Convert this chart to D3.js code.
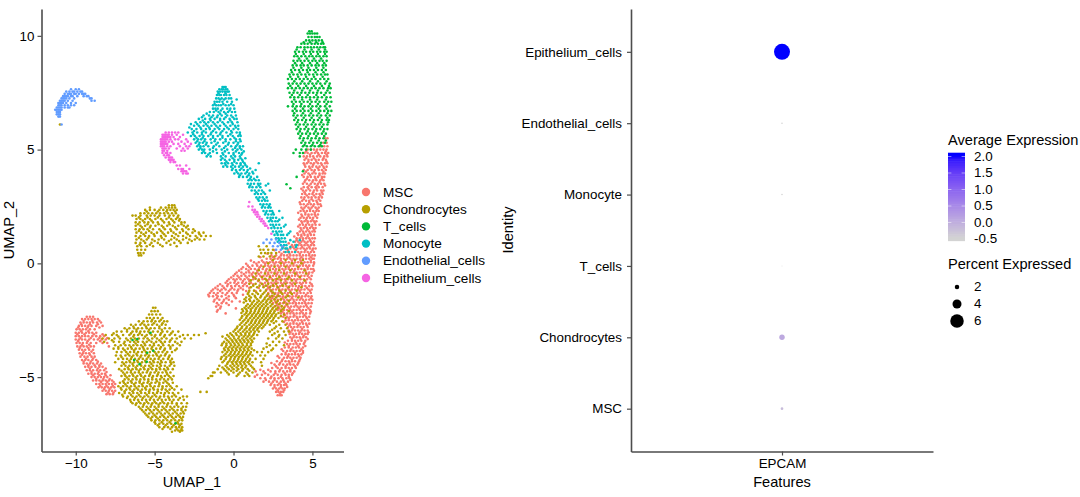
<!DOCTYPE html>
<html>
<head>
<meta charset="utf-8">
<script src="https://cdn.jsdelivr.net/npm/d3@7"></script>
<style>
  html, body { margin: 0; padding: 0; background: #fff; overflow: hidden; }
  text { font-family: "Liberation Sans", Arial, sans-serif; fill: #000; }
</style>
</head>
<body>
<div id="chart"></div>
<script>
// Values. Each row is [umap2, umap1, umap1, ...]
const mscRows = [
[5.5,5.8,5.95],[5.3,5.7,5.9],[5.15,5.5,5.75,5.95],[5,4.7,4.9,5.1,5.3,5.5,5.7,5.9],
[4.85,4.5,4.7,4.95,5.15,5.35,5.6,5.8,6],[4.7,4.45,4.65,4.85,5.05,5.3,5.5,5.75,5.95],
[4.55,4.5,4.75,4.95,5.2,5.4,5.65,5.85],[4.4,4.45,4.65,4.9,5.1,5.35,5.55,5.8,5.95],
[4.25,4.55,4.8,5,5.25,5.45,5.7,5.9],[4.1,4.45,4.7,4.95,5.15,5.4,5.6,5.85],
[3.95,4.5,4.75,5,5.2,5.45,5.65,5.8],[3.8,4.45,4.7,4.9,5.15,5.35,5.6,5.75],
[3.65,4.55,4.8,5.05,5.25,5.5,5.7],[3.5,4.4,4.65,4.9,5.15,5.35,5.55,5.75],
[3.35,4.45,4.7,4.95,5.2,5.4,5.65],[3.2,4.4,4.6,4.85,5.1,5.3,5.55,5.7],
[3.05,4.35,4.55,4.8,5,5.25,5.45,5.65],[2.9,4.3,4.5,4.75,4.95,5.2,5.4,5.6],
[2.75,4.35,4.6,4.8,5.05,5.25,5.5],[2.6,4.25,4.45,4.7,4.9,5.1,5.35,5.5],
[2.45,4.3,4.5,4.75,4.95,5.2,5.4],[2.3,4.25,4.45,4.65,4.85,5.05,5.25,5.4],
[2.15,4.3,4.55,4.75,4.95,5.15,5.35],[2,4.25,4.45,4.65,4.85,5.05,5.3],
[1.85,4.3,4.5,4.7,4.9,5.1,5.25],[1.7,4.2,4.4,4.6,4.8,5,5.2,5.45],
[1.55,4.25,4.45,4.65,4.85,5.05,5.2],[1.4,4.2,4.4,4.6,4.8,5,5.15],
[1.25,4.1,4.3,4.5,4.7,4.9,5.1],[1.1,4,4.2,4.4,4.6,4.8,5,5.15],
[0.95,3.9,4.1,4.3,4.5,4.7,4.9,5.1],[0.8,3.7,3.9,4.1,4.3,4.5,4.7,4.9,5.1],
[0.65,3.3,3.6,3.85,4.05,4.25,4.45,4.65,4.85,5.05,5.2],
[0.5,2.9,3.2,3.45,3.7,3.9,4.1,4.3,4.5,4.7,4.9,5.1],
[0.35,2.4,2.7,3,3.2,3.4,3.6,3.8,4,4.2,4.4,4.6,4.8,5,5.15],
[0.2,2.1,2.35,2.6,2.8,3,3.2,3.4,3.6,3.8,4,4.2,4.4,4.6,4.8,5,5.1],
[0.05,1.3,1.6,1.9,2.1,2.3,2.5,2.7,2.9,3.1,3.3,3.5,3.7,3.9,4.1,4.3,4.5,4.7,4.9,5.1],
[-0.1,0.9,1.2,1.5,1.75,2,2.2,2.4,2.6,2.8,3,3.2,3.4,3.6,3.8,4,4.2,4.4,4.6,4.8,5.05],
[-0.25,0.5,0.8,1.1,1.35,1.6,1.85,2.1,2.3,2.5,2.7,2.9,3.1,3.3,3.5,3.7,3.9,4.1,4.3,4.5,4.7,4.9,5.05],
[-0.4,0.2,0.5,0.8,1,1.25,1.5,1.75,2,2.2,2.4,2.6,2.8,3,3.2,3.4,3.6,3.8,4,4.2,4.4,4.6,4.8,5],
[-0.55,0,0.25,0.5,0.75,1,1.2,1.45,1.7,1.9,2.1,2.3,2.5,2.7,2.9,3.1,3.3,3.5,3.7,3.9,4.1,4.3,4.5,4.7,4.95],
[-0.7,-0.3,0,0.2,0.45,0.7,0.95,1.25,1.6,1.85,2.05,2.25,2.45,2.65,2.85,3.05,3.25,3.45,3.65,3.85,4.05,4.25,4.45,4.65,4.9],
[-0.85,-0.5,-0.2,0.05,0.3,0.55,0.8,1.1,1.7,2,2.2,2.4,2.6,2.8,3,3.2,3.4,3.6,3.8,4,4.2,4.4,4.6,4.85],
[-1,-1,-0.7,-0.4,-0.15,0.1,0.35,0.6,0.85,1.9,2.15,2.35,2.55,2.75,2.95,3.15,3.35,3.55,3.75,3.95,4.15,4.35,4.55,4.8,5],
[-1.15,-1.3,-1,-0.75,-0.5,-0.2,0.05,0.3,0.6,2.1,2.3,2.5,2.7,2.9,3.1,3.3,3.5,3.7,3.9,4.1,4.3,4.5,4.75,4.95],
[-1.3,-1.5,-1.25,-1,-0.7,-0.4,-0.1,0.2,2.2,2.45,2.65,2.85,3.05,3.25,3.45,3.65,3.85,4.05,4.25,4.45,4.7,4.9],
[-1.45,-1.55,-1.3,-1,-0.75,-0.3,0.05,2.3,2.55,2.75,2.95,3.15,3.35,3.55,3.75,3.95,4.15,4.35,4.55,4.75,4.95],
[-1.6,-1.2,-0.9,-0.6,-0.3,2.35,2.6,2.8,3,3.2,3.4,3.6,3.8,4,4.2,4.4,4.6,4.8,5],
[-1.75,-1.05,-0.75,-0.45,2.5,2.75,2.95,3.15,3.35,3.55,3.75,3.95,4.15,4.35,4.55,4.75,4.95],
[-1.9,-1.1,-0.8,2.6,2.85,3.05,3.25,3.45,3.65,3.85,4.05,4.25,4.45,4.65,4.9],
[-2.05,-1,2.8,3,3.2,3.4,3.6,3.8,4,4.2,4.4,4.6,4.85],[-2.2,-0.5,3,3.2,3.4,3.6,3.8,4,4.2,4.4,4.6,4.85],
[-2.35,3.15,3.4,3.6,3.8,4,4.2,4.4,4.6,4.8],[-2.5,3.3,3.5,3.7,3.9,4.1,4.3,4.5,4.75],
[-2.65,3.4,3.6,3.8,4,4.2,4.4,4.6,4.8],[-2.8,3.45,3.65,3.85,4.05,4.25,4.45,4.7],
[-2.95,3.5,3.7,3.9,4.1,4.3,4.5,4.7],[-3.1,3.55,3.75,3.95,4.15,4.35,4.55,4.7],
[-3.25,3.6,3.8,4,4.2,4.4,4.6],[-3.4,3.45,3.7,3.9,4.1,4.3,4.55],
[-3.55,3.4,3.6,3.8,4,4.2,4.45],[-3.7,3.25,3.5,3.75,3.95,4.15,4.4],
[-3.85,3.15,3.4,3.6,3.8,4,4.2,4.4],[-4,3.05,3.3,3.5,3.7,3.9,4.1,4.3],
[-4.15,2.9,3.2,3.4,3.6,3.8,4,4.25],[-4.3,2.75,3.05,3.3,3.5,3.7,3.9,4.15],
[-4.45,2.6,2.9,3.15,3.4,3.6,3.8,4.05],[-4.6,2.45,2.8,3.05,3.3,3.5,3.7,3.95],
[-4.75,1.4,1.9,2.35,2.65,2.9,3.15,3.4,3.6,3.85],[-4.9,1.5,1.8,2.2,2.55,2.8,3.05,3.3,3.5,3.7],
[-5.05,1.7,2,2.35,2.6,2.85,3.1,3.35,3.55],[-5.2,1.9,2.25,2.5,2.75,3,3.2,3.45],
[-5.35,2.35,2.6,2.8,3,3.2,3.35],[-5.5,2.5,2.7,2.9,3.1,3.25],[-5.65,2.7,2.85,3,3.15],[-5.8,2.8,2.95,3.05],
[4.92,4.6,5.25,5.85],[4.78,4.85,5.4,5.9],[4.62,4.6,5.1,5.7],[4.47,4.75,5.25,5.9],[4.33,4.5,5.05,5.6],[4.18,4.85,5.35,5.75],[4.03,4.6,5.1,5.7],
[3.88,4.35,4.85,5.45],[3.72,4.65,5.2,5.6],[3.58,4.5,5,5.45],[3.42,4.8,5.3,5.8],[3.28,4.3,4.75,5.25],[3.12,4.5,5.05,5.6],[2.98,4.65,5.1,5.5],
[2.82,4.45,4.95,5.4],[2.68,4.2,4.8,5.3],[2.52,4.6,5.05,5.55],[2.38,4.4,4.85,5.3],[2.22,4.1,4.55,5.15],[2.08,4.35,4.75,5.2],[1.92,4.15,4.6,5],
[1.78,4.35,4.7,5.15],[1.62,4.1,4.55,4.95],[1.48,4.3,4.7,5.1],[1.32,4.05,4.45,4.85],[1.18,3.85,4.3,4.7],[1.02,4,4.4,4.85],[0.88,3.5,4.2,4.6,5],[0.72,3.15,3.75,4.35,4.8],
[0.58,2.6,3.45,3.95,4.55,5],[0.42,2.15,3.05,3.55,4.2,4.8],[0.27,1.7,2.5,2.9,3.5,4.3,4.9],[0.12,1.1,1.8,2.45,3,3.7,4.25,4.9],[-0.02,0.8,1.45,2,2.6,3.2,3.8,4.4,5.1],
[-0.17,0.6,1,1.65,2.3,2.9,3.5,4.1,4.7],[-0.32,0.35,0.95,1.5,2.05,2.65,3.2,3.85,4.55,5.1],[-0.47,0.1,0.65,1.15,1.6,2.2,2.75,3.35,4,4.75],
[-0.62,-0.15,0.35,0.85,1.35,1.8,2.35,2.95,3.55,4.2,4.8],[-0.78,-0.4,0.1,0.6,1,1.55,2.15,2.7,3.3,3.95,4.55],[-0.92,-0.85,-0.35,0.2,0.7,1.25,1.85,2.5,3.1,3.7,4.3,4.95],
[-1.08,-1.15,-0.6,-0.1,0.45,1,1.6,2.2,2.85,3.45,4.1,4.65],[-1.22,-1.4,-0.85,-0.3,0.25,0.8,1.4,2.35,3,3.6,4.2,4.85],[-1.38,-1.6,-1.1,-0.5,0,0.6,2.15,2.8,3.4,4,4.6],
[-1.53,-1.05,-0.45,0.15,2.45,3.1,3.7,4.3,4.9],[-1.68,-1.25,-0.65,-0.1,0.4,2.65,3.25,3.85,4.5],[-1.83,-0.95,-0.3,2.75,3.35,3.95,4.6],[-1.98,-0.85,0.15,2.9,3.55,4.15,4.75],
[-2.12,-1.05,3.1,3.7,4.3,4.9],[-2.28,3.25,3.85,4.5],[-2.42,3.5,4.05,4.65],[-2.58,3.2,3.8,4.35],[-2.72,3.55,4.1,4.65],[-2.88,3.75,4.35],[-3.03,3.6,4.2,4.75],[-3.18,3.85,4.45],
[-3.33,3.7,4.25,4.7],[-3.48,3.25,3.95,4.5],[-3.63,3.5,4.1,4.55],[-3.78,3.05,3.65,4.3],[-3.93,3.3,3.9,4.4],[-4.08,2.8,3.45,4.15],[-4.23,3.1,3.7,4.2],[-4.38,2.4,2.95,3.55,4.1],
[-4.53,2.7,3.3,3.9],[-4.68,1.7,2.2,2.95,3.6],[-4.83,2,2.65,3.25,3.75],[-4.98,1.35,2.4,3,3.5],[-5.13,2.05,2.6,3.15,3.6],[-5.28,2.4,2.9,3.3],[-5.43,2.6,3,3.4],[-5.58,2.8,3.2],[-5.72,2.95],
// left crescent
[-2.35,-9.3,-9.1,-8.9],[-2.45,-9.6,-9.4,-9.2,-9,-8.8,-8.6],[-2.6,-9.7,-9.5,-9.3,-9.1,-8.9,-8.65,-8.4],
[-2.75,-9.8,-9.6,-9.4,-9.2,-9,-8.7,-8.3],[-2.9,-9.95,-9.75,-9.55,-9.35,-9.1,-8.8],[-3.05,-10,-9.8,-9.6,-9.35,-9.15,-8.95,-8.7],
[-3.2,-10,-9.8,-9.6,-9.4,-9.2,-8.95,-8.7,-8.45,-8.2],[-3.35,-10,-9.8,-9.6,-9.4,-9.15,-8.85,-8.6,-8.35,-8.1],
[-3.5,-9.95,-9.75,-9.55,-9.3,-9.05,-8.7,-8.3,-8],[-3.65,-9.9,-9.7,-9.5,-9.3,-9.05,-8.85,-7.9],
[-3.8,-9.8,-9.6,-9.4,-9.15,-8.9],[-3.95,-9.75,-9.55,-9.35,-9.15,-8.85],[-4.1,-9.7,-9.45,-9.25,-9,-8.8],
[-4.25,-9.6,-9.4,-9.2,-8.95,-8.7],[-4.4,-9.5,-9.3,-9.1,-8.9,-8.65,-8.4],[-4.55,-9.4,-9.2,-9,-8.75,-8.5,-8.3],
[-4.7,-9.3,-9.1,-8.9,-8.65,-8.45,-8.2],[-4.85,-9.2,-9,-8.8,-8.6,-8.35,-8.15],[-5,-9,-8.8,-8.6,-8.4,-8.2,-8],
[-5.15,-8.9,-8.7,-8.5,-8.3,-8.1,-7.9,-7.7],[-5.3,-8.7,-8.5,-8.3,-8.1,-7.9,-7.7,-7.5],[-5.45,-8.55,-8.35,-8.15,-7.95,-7.75,-7.55],
[-5.6,-8.3,-8.1,-7.9,-7.7,-7.5],[-5.75,-8.05,-7.85,-7.65],
[-2.52,-9.5,-8.95,-8.5],[-2.68,-9.65,-9.1,-8.6],[-2.82,-9.85,-9.25,-8.5],[-2.98,-9.65,-9.2],[-3.12,-9.9,-9.45,-8.85,-8.3],[-3.28,-9.7,-9.05,-8.5,-8],[-3.42,-9.85,-9.25,-8.45],
[-3.58,-9.6,-9.15],[-3.72,-9.75,-9.2],[-3.88,-9.5,-9],[-4.02,-9.6,-9.1],[-4.18,-9.35,-8.9],[-4.32,-9.5,-9.05,-8.6],[-4.48,-9.2,-8.8,-8.5],[-4.62,-9.1,-8.6,-8.1],[-4.78,-9,-8.55,-8.05],
[-4.92,-8.9,-8.5,-8.1,-7.8],[-5.08,-8.7,-8.25,-7.85],[-5.22,-8.4,-8,-7.6],[-5.38,-8.45,-8.05,-7.65],[-5.52,-8.2,-7.85],[-5.68,-7.95,-7.6]
];
const chondroRows = [
// upper lobe
[2.55,-4.1,-3.9,-3.75],[2.45,-5.3,-4.6,-4.3,-4.1,-3.9,-3.7],[2.35,-5.6,-5.3,-5,-4.7,-4.45,-4.2,-4,-3.8,-3.6],
[2.2,-5.9,-5.65,-5.4,-5.15,-4.9,-4.65,-4.4,-4.15,-3.9,-3.65],[2.1,-6.4,-6.2,-5.9,-5.5,-5.25,-5,-4.7,-4.35,-4.05,-3.8,-3.5],
[1.95,-6.15,-5.9,-5.6,-5.3,-4.95,-4.6,-4.25,-3.95,-3.65,-3.4],[1.8,-6.2,-5.95,-5.65,-5.4,-5.1,-4.8,-4.4,-4.1,-3.75,-3.3,-3.1],
[1.65,-6.2,-5.9,-5.6,-5.25,-4.95,-4.55,-4.2,-3.85,-3.5,-3.15,-2.9],[1.5,-6.2,-5.95,-5.7,-5.45,-5.1,-4.7,-4.35,-4,-3.6,-3.25,-2.85,-2.55],
[1.35,-6.15,-5.85,-5.55,-5.2,-4.85,-4.5,-4.15,-3.8,-3.4,-3,-2.6,-2.2,-1.9],[1.2,-6.2,-5.9,-5.6,-5.35,-5,-4.6,-4.3,-3.9,-3.5,-3.2,-2.75,-2.4,-2.05,-1.75,-1.45],
[1.05,-6.15,-5.85,-5.5,-5.15,-4.75,-4.4,-3.95,-3.6,-3.2,-2.8,-2.45,-2.15,-1.85],[0.9,-6.2,-5.9,-5.6,-5.2,-4.8,-4.25,-3.75,-3.35,-2.9],
[0.75,-6.1,-5.85,-5.5,-5.1,-4.5,-3.6],[0.6,-6.1,-5.85,-5.6],[0.45,-6.05,-5.9,-5.7],[0.35,-6,-5.85],
[2.28,-5.5,-4.8,-4.25,-3.7],[2.02,-6,-5.45,-4.8,-4.1,-3.55],[1.88,-5.75,-5.2,-4.5,-3.85,-3.45],[1.72,-6.05,-5.45,-4.75,-4.05,-3.3],[1.58,-5.8,-5.3,-4.45,-3.7,-3],
[1.42,-6,-5.35,-4.6,-3.95,-3.2,-2.45],[1.28,-5.7,-5.05,-4.4,-3.65,-2.9,-2.15],[1.12,-6,-5.4,-4.55,-3.75,-3,-2.3],[0.98,-5.7,-5,-4.1,-3.45,-2.65],[0.82,-5.95,-5.3,-4.65,-4],
// lower left lobe
[-1.95,-5.1,-4.95],[-2.1,-5.2,-5,-4.8],[-2.25,-5.35,-5.15,-4.9,-4.65],[-2.4,-5.5,-5.3,-5.05,-4.8,-4.5],
[-2.55,-6,-5.7,-5.45,-5.2,-4.95,-4.7,-4.4,-4.2],[-2.7,-6.5,-6.2,-5.9,-5.65,-5.4,-5.15,-4.85,-4.55,-4.3],
[-2.85,-6.9,-6.6,-6.3,-6.05,-5.8,-5.5,-5.25,-5,-4.7,-4.35,-4.05],[-3,-7.4,-7.1,-6.75,-6.4,-6.15,-5.9,-5.65,-5.4,-5.1,-4.8,-4.5,-4.2,-3.85,-3.5],
[-3.15,-8.1,-7.7,-7.4,-7,-6.6,-6.3,-6.05,-5.8,-5.5,-5.2,-4.95,-4.65,-4.35,-4.05,-3.7,-3.2,-2.9,-2.5,-2.2],
[-3.3,-8.3,-7.9,-7.55,-7.2,-6.8,-6.5,-6.25,-6,-5.7,-5.45,-5.15,-4.85,-4.55,-4.25,-3.9,-3.6,-3.1,-2.7],
[-3.45,-8.2,-7.6,-7.25,-6.9,-6.55,-6.3,-6.05,-5.75,-5.5,-5.2,-4.9,-4.6,-4.35,-4.05,-3.7,-3.3],
[-3.6,-7.5,-7.15,-6.85,-6.6,-6.35,-6.1,-5.85,-5.6,-5.3,-5.05,-4.75,-4.45,-4.1,-3.85,-3.4],
[-3.75,-7.6,-7.3,-7,-6.7,-6.45,-6.2,-5.95,-5.7,-5.45,-5.2,-4.9,-4.65,-4.35,-4,-3.6],
[-3.9,-7.4,-7.1,-6.8,-6.55,-6.3,-6.05,-5.8,-5.55,-5.3,-5,-4.75,-4.5,-4.2,-3.9],
[-4.05,-7.45,-7.15,-6.85,-6.6,-6.35,-6.1,-5.85,-5.6,-5.35,-5.1,-4.85,-4.6,-4.35,-4.05],
[-4.2,-7.3,-7,-6.75,-6.5,-6.25,-6,-5.75,-5.5,-5.25,-5,-4.75,-4.45,-4.15,-3.9],
[-4.35,-7.5,-7.05,-6.8,-6.55,-6.3,-6.05,-5.8,-5.55,-5.3,-5.05,-4.8,-4.55,-4.3,-4,-3.8],
[-4.5,-7.1,-6.85,-6.6,-6.35,-6.1,-5.85,-5.6,-5.35,-5.1,-4.85,-4.6,-4.35,-4.05,-3.75],
[-4.65,-7.25,-6.9,-6.65,-6.4,-6.15,-5.9,-5.65,-5.4,-5.15,-4.9,-4.65,-4.4,-4.15,-3.85],
[-4.8,-7,-6.75,-6.5,-6.25,-6,-5.75,-5.5,-5.25,-5,-4.75,-4.5,-4.25,-4],
[-4.95,-7.1,-6.85,-6.6,-6.35,-6.1,-5.85,-5.6,-5.35,-5.1,-4.85,-4.6,-4.35,-4.1,-3.8],
[-5.1,-6.9,-6.65,-6.4,-6.15,-5.9,-5.65,-5.4,-5.15,-4.9,-4.65,-4.4,-4.15,-3.9],
[-5.25,-7.2,-6.95,-6.7,-6.45,-6.2,-5.95,-5.7,-5.45,-5.2,-4.95,-4.7,-4.45,-4.2,-3.85],
[-5.4,-7.3,-7,-6.75,-6.5,-6.25,-6,-5.75,-5.5,-5.25,-5,-4.75,-4.5,-4.25,-4,-3.6],
[-5.55,-7.1,-6.8,-6.55,-6.3,-6.05,-5.8,-5.55,-5.3,-5.05,-4.8,-4.55,-4.3,-4.05,-3.75,-3.3],
[-5.7,-7.25,-6.9,-6.6,-6.35,-6.1,-5.85,-5.6,-5.35,-5.1,-4.85,-4.6,-4.35,-4.1,-3.85,-3.5],
[-5.85,-7,-6.7,-6.4,-6.15,-5.9,-5.65,-5.4,-5.15,-4.9,-4.65,-4.4,-4.15,-3.9,-3.65,-3.2,-2.95],
[-6,-6.55,-6.3,-6.05,-5.8,-5.55,-5.3,-5.05,-4.8,-4.55,-4.3,-4.05,-3.8,-3.5,-3.15],
[-6.15,-6.4,-6.15,-5.9,-5.65,-5.4,-5.15,-4.9,-4.65,-4.4,-4.15,-3.9,-3.6,-3.3,-2.95],
[-6.3,-6,-5.75,-5.5,-5.25,-5,-4.75,-4.5,-4.25,-4,-3.75,-3.5,-3.2,-3],
[-6.45,-5.8,-5.55,-5.3,-5.05,-4.8,-4.55,-4.3,-4.05,-3.8,-3.55,-3.3,-3.05],
[-6.6,-5.6,-5.35,-5.1,-4.85,-4.6,-4.35,-4.1,-3.85,-3.6,-3.35,-3.15],
[-6.75,-5.4,-5.15,-4.9,-4.65,-4.4,-4.15,-3.9,-3.65,-3.4,-3.2],
[-6.9,-5.2,-4.95,-4.7,-4.45,-4.2,-3.95,-3.7,-3.45,-3.25],[-7.05,-4.95,-4.7,-4.45,-4.2,-3.95,-3.7,-3.5,-3.3],
[-7.2,-4.7,-4.4,-4.15,-3.9,-3.65,-3.45,-3.25],[-7.35,-3.7,-3.5,-3.35,-3.25],
[-2.48,-5.15,-4.6],[-2.63,-5.8,-5.05,-4.5],[-2.78,-6.35,-5.55,-4.7],[-2.92,-6.75,-6.15,-5.35,-4.55],[-3.08,-7.6,-6.5,-5.95,-5.3,-4.6,-3.95],[-3.22,-7.3,-6.35,-5.6,-5,-4.4,-3.4],
[-3.38,-7.7,-6.7,-6.15,-5.35,-4.7,-4],[-3.52,-6.95,-6.2,-5.65,-5.05,-4.5,-3.55],[-3.68,-7.3,-6.5,-5.75,-5.15,-4.6,-4],[-3.82,-6.9,-6.3,-5.65,-5.1,-4.4,-3.7],[-3.98,-6.7,-6.15,-5.5,-4.9,-4.3],
[-4.12,-7.1,-6.45,-5.9,-5.4,-4.7,-4.1],[-4.28,-6.6,-6.1,-5.6,-5.1,-4.6,-4],[-4.42,-6.95,-6.4,-5.9,-5.2,-4.65,-3.95],[-4.58,-6.7,-6.2,-5.7,-5.25,-4.7,-4.2],[-4.72,-7.1,-6.5,-6,-5.45,-4.9,-4.3],
[-4.88,-6.9,-6.4,-5.9,-5.3,-4.8,-4.2],[-5.02,-6.75,-6.2,-5.7,-5.15,-4.55,-4],[-5.18,-7,-6.5,-5.95,-5.4,-4.85,-4.3],[-5.32,-6.85,-6.3,-5.8,-5.3,-4.7,-4.1],[-5.48,-7.15,-6.6,-6.15,-5.6,-5.1,-4.5,-3.9],
[-5.62,-6.9,-6.4,-5.9,-5.35,-4.8,-4.2],[-5.78,-7.05,-6.5,-6,-5.5,-5,-4.4,-3.75],[-5.92,-6.75,-6.25,-5.75,-5.25,-4.7,-4.1,-3.4],[-6.08,-6.5,-6,-5.5,-5,-4.5,-3.9],[-6.22,-6.2,-5.7,-5.2,-4.75,-4.2,-3.6],
[-6.38,-5.9,-5.4,-4.9,-4.4,-3.9,-3.3],[-6.52,-5.7,-5.2,-4.7,-4.2,-3.7,-3.2],[-6.68,-5.5,-5,-4.5,-4,-3.5],[-6.82,-5.25,-4.8,-4.3,-3.8,-3.3],[-6.98,-5,-4.55,-4.05,-3.55],[-7.12,-4.8,-4.3,-3.8,-3.4],
[-7.28,-4.5,-4,-3.6,-3.3],[-7.4,-3.9,-3.4],
// right lobe, over the MSC body
[0.75,1.6,2.1],[0.6,1.7,1.9,2.2,2.5],[0.45,1.75,2,2.2,2.4,2.7],[0.3,1.6,1.9,2.3,2.6],[0.15,2.5,3.3,3.9,4.4],[0,2.2,3,3.7,4.3],
[-0.15,1.9,2.6,3.3,4.1],[-0.3,1.6,2.3,2.9,3.6,4.5],[-0.45,1.4,2,2.6,3.2,3.9,4.6],[-0.6,1.25,1.8,2.3,2.9,3.5,4.2],
[-0.75,1.1,1.6,2.1,2.5,3,3.7,4.5],[-0.9,1,1.4,1.8,2.2,2.7,3.3,3.9],[-1.05,1.1,1.5,1.9,2.3,2.8,3.5,4.3],
[-1.2,1,1.3,1.7,2.05,2.4,2.9,3.3,4],[-1.35,0.9,1.2,1.55,1.85,2.2,2.6,3.1,3.7],[-1.5,0.8,1.1,1.4,1.7,2,2.3,2.7,3.3,4.1],
[-1.65,0.8,1.05,1.3,1.6,1.85,2.1,2.4,2.8,3.5],[-1.8,0.9,1.15,1.4,1.65,1.9,2.15,2.45,2.9,3.4],
[-1.95,0.7,0.95,1.2,1.45,1.7,1.95,2.2,2.5,2.8,3.2],[-2.1,0.6,0.85,1.1,1.35,1.6,1.85,2.1,2.35,2.6,3,3.5],
[-2.25,0.7,0.95,1.2,1.45,1.7,1.95,2.2,2.45,2.7,3.2],[-2.4,0.5,0.8,1.05,1.3,1.55,1.8,2.05,2.3,2.55,2.85,3.3],
[-2.55,0.6,0.9,1.15,1.4,1.65,1.9,2.15,2.4,2.7,3.1],[-2.7,0.4,0.7,1,1.25,1.5,1.75,2,2.3,2.9,3.3],
[-2.85,0.2,0.5,0.8,1.05,1.3,1.55,1.8,2.6,3,3.4],[-3,0,0.3,0.6,0.85,1.1,1.35,1.6,2.3,2.8,3.2,3.5],
[-3.15,-0.4,-0.1,0.2,0.5,0.75,1,1.25,1.5,2.45,2.9,3.3],[-3.3,-0.5,-0.2,0.05,0.3,0.55,0.8,1.05,1.3,2.2,2.7,3.1],
[-3.45,-0.6,-0.3,-0.05,0.2,0.45,0.7,0.95,1.2,2.5,2.9],[-3.6,-0.75,-0.45,-0.15,0.1,0.35,0.6,0.85,1.1,2.3,2.7,3.2],
[-3.75,-0.6,-0.35,-0.1,0.15,0.4,0.65,0.9,1.15,1.9,2.5],[-3.9,-0.7,-0.4,-0.15,0.1,0.35,0.6,0.85,1.1,1.5,1.8,2.2],
[-4.05,-0.6,-0.3,-0.05,0.2,0.45,0.7,0.95,1.2,1.7,2],[-4.2,-0.8,-0.5,-0.2,0.05,0.3,0.55,0.8,1.05,1.4,1.9],
[-4.35,-0.7,-0.35,-0.1,0.15,0.4,0.65,0.9,1.2,1.75],[-4.5,-0.9,-0.5,-0.2,0.05,0.3,0.55,0.8,1.1,1.8],
[-4.65,-1,-0.6,-0.3,0,0.3,0.6,0.9,1.3],[-4.8,-1.3,-1.2,-0.8,-0.4,0,0.4,0.8,1.2],[-4.95,-1.45,-1.35,0.2,0.7,1],[-5.05,-1.6],
[-0.68,1.4,2,2.75,3.4],[-0.98,1.25,1.65,2.05,2.5,3.1],[-1.28,0.95,1.45,1.95,2.5,3,3.6],[-1.43,1,1.35,1.75,2.1,2.45,2.85,3.45],[-1.58,0.7,1,1.5,1.95,2.2,2.6,3],
[-1.72,0.65,1.2,1.5,1.75,2.05,2.3,2.7,3.2],[-1.88,0.8,1.05,1.3,1.55,1.8,2.05,2.35,2.65,3.05],[-2.02,0.55,0.8,1.1,1.4,1.65,1.9,2.15,2.45,2.7,3.1],[-2.18,0.5,0.8,1.05,1.3,1.55,1.8,2.05,2.3,2.55,2.85],
[-2.32,0.55,0.85,1.15,1.4,1.65,1.9,2.15,2.4,2.65,3],[-2.48,0.4,0.7,0.95,1.2,1.45,1.7,1.95,2.2,2.5],[-2.62,0.5,0.8,1.1,1.35,1.6,1.85,2.1,2.55],[-2.78,0.25,0.55,0.85,1.15,1.4,1.65,1.9,2.7],
[-2.92,0.1,0.4,0.7,1,1.25,1.5,2.45],[-3.08,-0.2,0.15,0.45,0.75,1,1.3,2.6],[-3.22,-0.7,-0.3,0,0.35,0.65,0.9,1.15,2.85],[-3.38,-0.4,-0.1,0.15,0.4,0.65,0.9,1.15],[-3.52,-0.7,-0.45,-0.2,0.05,0.3,0.55,0.85,1.1,2.1],
[-3.68,-0.5,-0.25,0,0.25,0.5,0.75,1,2.1],[-3.82,-0.55,-0.3,-0.05,0.2,0.45,0.7,0.95,1.3,2.4],[-3.98,-0.5,-0.2,0.05,0.3,0.55,0.8,1.05],[-4.12,-0.75,-0.45,-0.15,0.1,0.35,0.6,0.9],
[-4.28,-0.6,-0.25,0,0.25,0.5,0.75,1],[-4.42,-0.4,-0.05,0.2,0.45,0.7,1],[-4.58,-0.7,-0.4,-0.1,0.2,0.5,0.75,1.2],[-4.72,-0.5,-0.15,0.2,0.55,1],[-4.88,-0.3,0.3,0.9],
[-5.65,-2.1,-1.7],[-3.07,-1.77],[6.1,-11]
];
const tcellRows = [
[10.2,4.8,4.95],[10.1,4.7,4.85,5,5.15,5.3],[9.95,4.75,4.95,5.15,5.3,5.45],[9.8,4.6,4.8,5,5.2,5.4,5.6],
[9.65,4.3,4.5,4.7,4.95,5.15,5.35,5.55,5.7],[9.5,4.05,4.25,4.5,4.7,4.9,5.1,5.3,5.5,5.7,5.8],
[9.3,3.9,4.15,4.4,4.6,4.85,5.05,5.3,5.5,5.75,5.9],[9.1,3.85,4.05,4.3,4.55,4.8,5,5.25,5.45,5.7,5.9],
[8.9,3.8,4.05,4.25,4.5,4.75,5,5.2,5.45,5.65,5.9],[8.7,3.75,4,4.25,4.45,4.7,4.95,5.2,5.4,5.65,5.85],
[8.5,3.65,3.9,4.15,4.4,4.65,4.85,5.1,5.35,5.6,5.85],[8.3,3.55,3.8,4.05,4.3,4.55,4.8,5.05,5.3,5.55,5.8,5.95],
[8.1,3.45,3.7,3.95,4.2,4.45,4.7,4.95,5.2,5.5,5.75,6],[7.9,3.5,3.75,4,4.25,4.5,4.75,5,5.25,5.5,5.8,6.1],
[7.7,3.45,3.7,3.95,4.2,4.45,4.7,4.95,5.2,5.45,5.7,6,6.15],[7.5,3.55,3.8,4.05,4.3,4.55,4.8,5.05,5.3,5.55,5.85,6.1],
[7.3,3.6,3.85,4.1,4.35,4.6,4.85,5.1,5.35,5.6,5.9,6.15],[7.1,3.7,3.95,4.2,4.45,4.7,4.95,5.2,5.45,5.75,6,6.2],
[6.9,3.45,3.75,4,4.25,4.5,4.75,5,5.25,5.5,5.8,6.1],[6.7,3.75,4,4.25,4.5,4.75,5,5.25,5.5,5.75,6,6.2],
[6.5,3.8,4.05,4.3,4.55,4.8,5.05,5.3,5.55,5.85,6.1],[6.3,3.85,4.1,4.35,4.6,4.85,5.1,5.35,5.6,5.9,6.05],
[6.1,3.95,4.2,4.45,4.7,4.95,5.2,5.45,5.7,5.95],[5.9,4,4.25,4.5,4.75,5,5.25,5.5,5.75,5.95],
[5.7,4.1,4.35,4.6,4.85,5.1,5.35,5.6,5.85],[5.5,4.2,4.45,4.7,4.95,5.2,5.45,5.7],
[5.3,4.3,4.55,4.8,5.05,5.3,5.55,5.8],[5.15,4.4,4.65,4.9,5.15,5.4,5.6],[5,3.95,4.3,4.6,4.9],[4.85,3.8,4.2,4.4],
[9.72,4.45,4.85,5.25,5.65],[9.4,4,4.5,4.95,5.4,5.8],[9.2,3.95,4.45,4.9,5.35,5.8],[9,4.15,4.65,5.1,5.55],[8.8,3.9,4.35,4.85,5.3,5.75],[8.6,3.8,4.3,4.75,5.25,5.7],[8.4,3.7,4.2,4.7,5.2,5.7],
[8.2,3.6,4.1,4.6,5.1,5.65],[8,3.85,4.35,4.85,5.35,5.9],[7.8,3.6,4.1,4.6,5.1,5.6,6.05],[7.6,3.85,4.35,4.85,5.35,5.95],[7.4,3.7,4.2,4.7,5.25,5.75],[7.2,3.85,4.35,4.85,5.3,5.85],[7,3.8,4.3,4.85,5.35,5.9],
[6.8,3.9,4.4,4.9,5.4,5.9],[6.6,3.85,4.4,4.9,5.4,5.95],[6.4,3.95,4.45,4.95,5.45,5.95],[6.2,4.05,4.55,5.05,5.55,6],[6,4.1,4.6,5.1,5.6],[5.8,4.2,4.7,5.2,5.7],[5.6,4.25,4.75,5.25,5.75],[5.4,4.4,4.9,5.4,5.85],[5.2,4.5,5,5.5],
[4.7,4.2],[4.05,4.4],[3.8,4],[3.48,3.36],[3.3,3.6],
[-3.37,-6.4],[-3.33,-6.1],[-3.05,-5.26],[-3.84,-5.09],[-3.93,-5.47],[-4.25,-6.3],[-4.43,-5.95],[-4.33,-5.5],[-7.03,-3.67]
];
const monocyteRows = [
[7.75,-0.7,-0.6,-0.5],[7.65,-0.9,-0.75,-0.65,-0.5,-0.4],[7.55,-1,-0.85,-0.7,-0.55,-0.4,-0.3],[7.4,-1.05,-0.9,-0.8,-0.6,-0.45,-0.25],
[7.25,-1.1,-0.95,-0.75,-0.5,-0.3,-0.15],[7.1,-1.2,-1.05,-0.9,-0.7,-0.4,-0.1],[6.95,-1.3,-1.1,-0.95,-0.8,-0.5,-0.3,0],
[6.8,-1.3,-1.15,-1,-0.7,-0.4,-0.2,0.05],[6.65,-1.5,-1.25,-0.95,-0.6,-0.35,-0.1,0.1],[6.5,-1.9,-1.55,-1.3,-1,-0.75,-0.4,-0.15,0.15],
[6.35,-2.2,-1.8,-1.5,-1.2,-0.85,-0.6,-0.25,0.05,0.2],[6.2,-2.4,-2.1,-1.85,-1.6,-1.3,-1,-0.7,-0.35,-0.1,0.25],
[6.05,-2.5,-2.2,-1.9,-1.65,-1.4,-1.1,-0.85,-0.5,-0.2,0.1,0.3],[5.9,-2.65,-2.35,-2.05,-1.75,-1.5,-1.2,-0.9,-0.6,-0.3,0,0.3],
[5.75,-2.9,-2.6,-2.3,-2,-1.75,-1.4,-1.1,-0.8,-0.45,-0.1,0.2,0.4],[5.6,-2.7,-2.45,-2.15,-1.9,-1.6,-1.3,-1,-0.7,-0.35,-0.05,0.3,0.45],
[5.45,-2.5,-2.25,-2.05,-1.8,-1.45,-1.15,-0.85,-0.5,-0.2,0.15,0.4],[5.3,-2.4,-2.15,-1.95,-1.7,-1.4,-1,-0.65,-0.3,0,0.3],
[5.15,-2.3,-2.1,-1.9,-1.6,-1.25,-0.9,-0.5,-0.15,0.15,0.4,0.6],[5,-2.2,-2,-1.85,-1.5,-1.1,-0.75,-0.4,-0.05,0.25,0.5],
[4.85,-2,-1.8,-1.5,-1.05,-0.7,-0.3,0,0.35,0.55],[4.7,-1.7,-1.45,-0.8,-0.5,-0.15,0.1,0.4],[4.55,-0.8,-0.55,-0.25,0.05,0.3,0.55],
[4.4,-0.75,-0.55,-0.35,-0.1,0.2,0.45,0.7,1.6],[4.25,-0.65,-0.4,-0.15,0.1,0.35,0.6,0.85],[4.1,-0.1,0.15,0.4,0.65,0.9,1.4],
[3.95,0.05,0.3,0.5,0.75,1,1.25],[3.8,0.35,0.6,0.85,1.1,1.5],[3.65,0.95,1.15,1.4,1.6],[3.5,0.9,1.1,1.3,1.55,1.7,2.2],
[3.35,1,1.2,1.45,1.7],[3.2,1.15,1.35,1.6,1.8,2.3],[3.05,1.35,1.55,1.75,2],[2.9,1.45,1.65,1.85,2.1],[2.75,1.6,1.8,2,2.15],
[2.6,1.7,1.9,2.1,2.3],[2.45,1.8,2,2.2,2.35],[2.3,1.9,2.1,2.3,2.45,2.9],[2.15,2,2.2,2.4,2.55],[2,2.15,2.35,2.5,2.7,3.1],
[1.85,2.25,2.45,2.65,2.8],[1.7,2.35,2.5,2.7,2.9,3.3],[1.55,2.4,2.6,2.8,3],[1.4,2.5,2.7,2.9,3.05,3.6],[1.25,2.6,2.8,3,3.15,3.4],
[1.1,2.7,2.85,3.05,3.25],[0.95,2.8,3,3.15,3.3,3.8],[0.8,3,3.2,3.35,4],[0.65,3.1,3.3,3.4],[0.5,3.3,3.5,3.9],
[7.48,-0.95,-0.5],[7.2,-0.85,-0.6,0.2],[7,-1.2,-0.65,-0.15],[6.72,-1.1,-0.8,-0.25],[6.58,-1.7,-0.85,-0.5],[6.42,-2,-1.4,-1.05,-0.5,-0.05],[6.28,-1.95,-1.45,-0.85,-0.2],
[6.12,-2.7,-2.3,-1.75,-1.2,-0.6,-0.05],[5.97,-2.8,-2.1,-1.55,-1,-0.4,0.15],[5.82,-2.5,-1.9,-1.3,-0.7,-0.15],[5.67,-2.55,-2,-1.45,-0.85,-0.2,0.4],[5.52,-2.35,-1.95,-1.3,-0.7,0.05],
[5.37,-2.3,-1.85,-1.2,-0.5,0.15,0.45],[5.22,-2.2,-1.75,-1.1,-0.35,0.25],[5.07,-2.1,-1.3,-0.6,0.1,0.4],[4.92,-1.9,-1.3,-0.55,0.15,0.65],[4.78,-1.6,-0.65,0,0.5],[4.62,-0.7,-0.05,0.45,0.75],
[4.47,-0.45,0.05,0.6],[4.32,-0.5,-0.05,0.45,0.75],[4.17,-0.05,0.5,1.05],[4.02,0.2,0.85,1.2],[3.87,0.4,0.95],[3.72,1.05,1.3],[3.42,1.05,1.6,2.05],[3.12,1.45,1.9],[2.82,1.55,1.95],
[2.52,1.85,2.25],[2.22,2.05,2.5],[1.92,2.35,2.9],[1.62,2.55,3.2],[1.32,2.75,3.5],[1.02,2.9,3.6,4.2],[0.72,3.1,3.6,3.95]
];
const endothelialRows = [
[7.65,-10.3,-10,-9.8],[7.55,-10.6,-10.4,-10.2,-10.1,-9.9,-9.7,-9.6],[7.45,-10.7,-10.5,-10.4,-10.3,-10.1,-10,-9.8,-9.6,-9.5,-9.4],
[7.35,-10.8,-10.7,-10.6,-10.5,-10.3,-10.2,-9.9,-9.5,-9.3,-9.2],[7.25,-10.9,-10.8,-10.7,-10.6,-10.4,-10.1,-9.1,-9],
[7.15,-11,-10.9,-10.8,-10.7,-10.5,-10.2,-9,-8.8],[7.05,-11.1,-11,-10.9,-10.8,-10.6,-10.3,-10],[6.95,-11.1,-11,-10.9,-10.7,-10.5,-10.3,-10.1],
[6.85,-11.2,-11.1,-11,-10.9,-10.7,-10.5,-10.4],[6.75,-11.3,-11.2,-11.1,-11,-10.9],[6.65,-11.2,-11.1,-11],[6.55,-11.2,-11.1,-11],[6.45,-11.1,-11],[6.1,-10.9],
[1.05,2.1,2.4,2.7],[0.9,1.9,2.3,2.6,2.9],[0.75,2.5,2.8,3.1],[0.6,2.7,3]
];
const epitheliumRows = [
[5.75,-4.3,-4.1,-3.9,-3.7,-3.5],[5.65,-4.5,-4.4,-4.3,-4.2,-4.1,-3.9,-3.6,-3.2],[5.55,-4.5,-4.4,-4.3,-4.2,-4.1,-4,-3.8,-3.4],
[5.45,-4.6,-4.5,-4.4,-4.3,-4.2,-4,-3.7,-3.5,-3],[5.35,-4.6,-4.5,-4.4,-4.3,-4.1,-3.9,-3.3,-2.9],[5.25,-4.6,-4.5,-4.4,-4.3,-4.2,-3.8,-3.5,-3.1,-2.7],
[5.15,-4.6,-4.5,-4.4,-4.2,-4,-3.4,-3,-2.8],[5.05,-4.5,-4.4,-4.3,-4.1,-3.6,-3.2,-2.9],[4.95,-4.5,-4.4,-4.2,-3.3,-3.1],[4.85,-4.5,-4.3,-4.2,-4],
[4.75,-4.4,-4.2,-4.1],[4.65,-4.3,-4.1,-4,-3.9],[4.55,-4.1,-4,-3.9,-3.8],[4.45,-4,-3.8,-3.7],[4.3,-3.6,-3.4,-3],[4.15,-3.5,-3.3,-3.2,-2.8],
[4.05,-3.3,-3.2,-3.1,-3],[3.95,-3.2,-3,-2.9],
[2.7,1],[2.5,0.95,1.2],[2.35,1.2,1.35],[2.25,1.3,1.45,1.5],[2.15,1.4,1.55],[2.05,1.5,1.65],[1.95,1.65,1.8],[1.85,1.75,1.9],[1.75,1.9,2],[1.65,2,2.1],[1.55,2.2],[1.3,2.4]
];
const clusterNames = ["MSC", "Chondrocytes", "T_cells", "Monocyte", "Endothelial_cells", "Epithelium_cells"];
const clusterColors = ["#F8766D", "#B79F00", "#00BA38", "#00BFC4", "#619CFF", "#F564E3"];
const clusterRows = [mscRows, chondroRows, tcellRows, monocyteRows, endothelialRows, epitheliumRows];
const umapXTicks = [-10, -5, 0, 5];
const umapYTicks = [-5, 0, 5, 10];

const dotIdentities = ["MSC", "Chondrocytes", "T_cells", "Monocyte", "Endothelial_cells", "Epithelium_cells"];
const dotFeatures = ["EPCAM"];
const dotPercent = [1.2, 2.4, 0.4, 0.7, 0.7, 7.1];
const dotAverage = [-0.2, 0.05, -0.5, -0.5, -0.5, 2.0];
const expressionTicks = [2.0, 1.5, 1.0, 0.5, 0.0, -0.5];
const percentTicks = [2, 4, 6];

const svg = d3.select("#chart").append("svg").attr("width", 1080).attr("height", 497);
const axisColor = "#4d4d4d";
const smallFont = 13.4;
const titleFont = 14.6;

function styleAxis(g) {
  g.selectAll("path, line").attr("stroke", axisColor);
  g.select("path").attr("stroke-width", 1.6);
  g.selectAll("line").attr("stroke-width", 1.2);
  g.selectAll("text").attr("font-size", smallFont).attr("fill", "#222");
}

// ---- UMAP panel
const x = d3.scaleLinear().domain([-12.17, 6.97]).range([41.5, 343.5]);
const y = d3.scaleLinear().domain([-8.27, 11.18]).range([451.5, 9]);

clusterRows.forEach((rows, i) => {
  const points = rows.flatMap(([v, ...us]) => us.map(u => [u, v]));
  svg.append("g").selectAll("circle").data(points).enter().append("circle")
    .attr("cx", d => x(d[0])).attr("cy", d => y(d[1])).attr("r", 1.3)
    .attr("fill", clusterColors[i]);
});

svg.append("g").attr("transform", "translate(0,451.5)")
  .call(d3.axisBottom(x).tickValues(umapXTicks).tickSize(4).tickSizeOuter(0).tickPadding(3))
  .call(styleAxis);
svg.append("g").attr("transform", "translate(41.5,0)")
  .call(d3.axisLeft(y).tickValues(umapYTicks).tickSize(4).tickSizeOuter(0).tickPadding(3))
  .call(styleAxis);

svg.append("text").attr("x", 192).attr("y", 487).attr("text-anchor", "middle").attr("font-size", titleFont).text("UMAP_1");
svg.append("text").attr("transform", "translate(14.2,230) rotate(-90)").attr("text-anchor", "middle").attr("font-size", titleFont).text("UMAP_2");

// legend of clusters
const legendY = d3.scalePoint().domain(clusterNames).range([192, 278]);
clusterNames.forEach((name, i) => {
  svg.append("circle").attr("cx", 366).attr("cy", legendY(name)).attr("r", 4.2).attr("fill", clusterColors[i]);
  svg.append("text").attr("x", 383).attr("y", legendY(name) + 4.6).attr("font-size", 13.6).text(name);
});

// ---- Dot plot panel
const dx = d3.scalePoint().domain(dotFeatures).range([631, 933]).padding(0.5);
const dy = d3.scalePoint().domain(dotIdentities).range([451.5, 9]).padding(0.6);
const radius = d3.scaleLinear().domain([0, 7.1]).range([0, 8]);
const color = d3.scaleLinear().domain([-0.5, 2]).range(["lightgrey", "blue"]).interpolate(d3.interpolateLab);

svg.append("g").selectAll("circle").data(dotIdentities).enter().append("circle")
  .attr("cx", dx("EPCAM")).attr("cy", d => dy(d))
  .attr("r", (d, i) => radius(dotPercent[i]))
  .attr("fill", (d, i) => color(dotAverage[i]));

svg.append("g").attr("transform", "translate(0,451.5)")
  .call(d3.axisBottom(dx).tickSize(4).tickSizeOuter(0).tickPadding(3))
  .call(styleAxis);
svg.append("g").attr("transform", "translate(631,0)")
  .call(d3.axisLeft(dy).tickSize(4).tickSizeOuter(0).tickPadding(5))
  .call(styleAxis);

svg.append("text").attr("x", 782).attr("y", 487).attr("text-anchor", "middle").attr("font-size", titleFont).text("Features");
svg.append("text").attr("transform", "translate(513,230) rotate(-90)").attr("text-anchor", "middle").attr("font-size", titleFont).text("Identity");

// ---- Colour bar
svg.append("text").attr("x", 948).attr("y", 145).attr("font-size", titleFont).text("Average Expression");
const barY = d3.scaleLinear().domain([-0.5, 2]).range([239, 156.5]);
const stops = d3.range(0, 41).map(i => -0.55 + i * 0.065);
svg.append("g").selectAll("rect").data(stops).enter().append("rect")
  .attr("x", 948).attr("width", 17)
  .attr("y", d => barY(d + 0.065)).attr("height", d => barY(d) - barY(d + 0.065) + 0.5)
  .attr("fill", d => color(Math.max(-0.5, Math.min(2, d))));
expressionTicks.forEach(t => {
  svg.append("text").attr("x", 974).attr("y", barY(t) + 4.3).attr("font-size", smallFont).text(t.toFixed(1));
  if (t > -0.5) {
    svg.append("line").attr("x1", 948).attr("x2", 951.4).attr("y1", barY(t)).attr("y2", barY(t)).attr("stroke", "#fff").attr("stroke-width", 0.5);
    svg.append("line").attr("x1", 961.6).attr("x2", 965).attr("y1", barY(t)).attr("y2", barY(t)).attr("stroke", "#fff").attr("stroke-width", 0.5);
  }
});

// ---- Size legend
svg.append("text").attr("x", 948).attr("y", 269).attr("font-size", titleFont).text("Percent Expressed");
const sizeY = d3.scalePoint().domain(percentTicks).range([287, 321]);
percentTicks.forEach(p => {
  svg.append("circle").attr("cx", 957).attr("cy", sizeY(p)).attr("r", radius(p)).attr("fill", "#000");
  svg.append("text").attr("x", 974).attr("y", sizeY(p) + 4.3).attr("font-size", smallFont).text(p);
});
</script>
</body>
</html>
